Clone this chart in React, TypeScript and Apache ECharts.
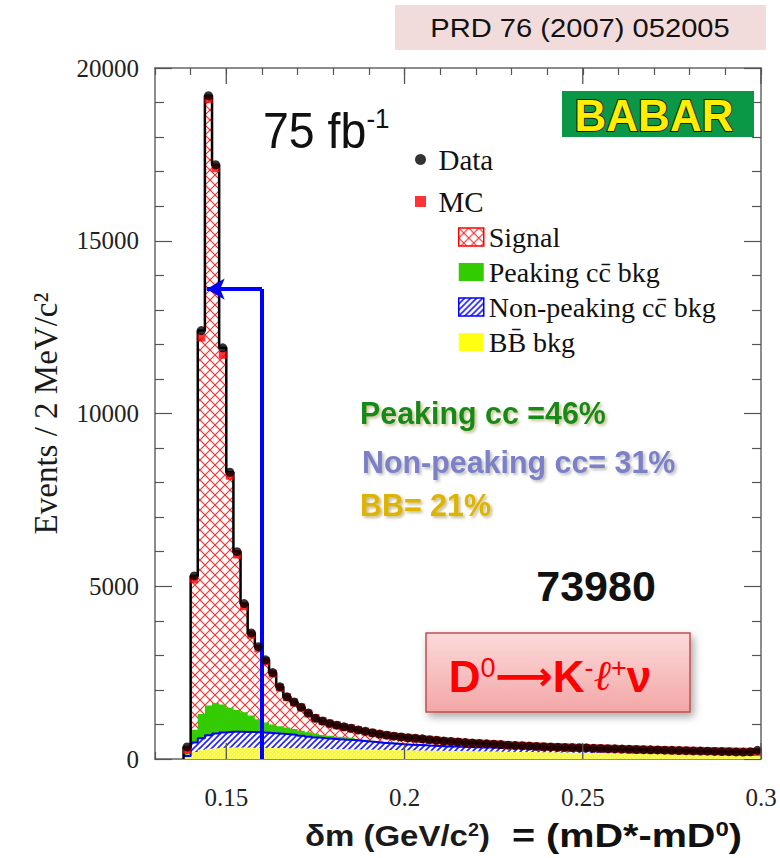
import React, { useEffect, useRef } from "react";
import * as echarts from "echarts";

// ---- Histogram binning (2 MeV/c^2 bins, lower edges) ----
const BIN_WIDTH = 0.002;
const binLowEdges = [
  0.138, 0.140, 0.142, 0.144, 0.146, 0.148, 0.150, 0.152, 0.154, 0.156,
  0.158, 0.160, 0.162, 0.164, 0.166, 0.168, 0.170, 0.172, 0.174, 0.176,
  0.178, 0.180, 0.182, 0.184, 0.186, 0.188, 0.190, 0.192, 0.194, 0.196,
  0.198, 0.200, 0.202, 0.204, 0.206, 0.208, 0.210, 0.212, 0.214, 0.216,
  0.218, 0.220, 0.222, 0.224, 0.226, 0.228, 0.230, 0.232, 0.234, 0.236,
  0.238, 0.240, 0.242, 0.244, 0.246, 0.248, 0.250, 0.252, 0.254, 0.256,
  0.258, 0.260, 0.262, 0.264, 0.266, 0.268, 0.270, 0.272, 0.274, 0.276,
  0.278, 0.280, 0.282, 0.284, 0.286, 0.288, 0.290, 0.292, 0.294, 0.296,
  0.298,
];

// ---- Data (events per bin) ----
const dataCounts = [
  350, 5300, 12400, 19200, 17200, 11900, 8300, 6000, 4500, 3650,
  3250, 2870, 2500, 2090, 1800, 1650, 1500, 1330, 1180, 1100,
  1030, 980, 930, 890, 840, 800, 760, 720, 690, 660,
  640, 615, 600, 585, 560, 540, 520, 505, 493, 475,
  460, 450, 440, 430, 418, 400, 390, 384, 375, 365,
  355, 350, 340, 335, 330, 325, 322, 310, 305, 300,
  295, 286, 280, 275, 270, 265, 262, 255, 250, 245,
  240, 233, 230, 225, 220, 215, 212, 205, 200, 210,
  250,
];

// ---- MC components (events per bin) ----
const signalMC = [
  130, 4350, 10900, 17550, 15480, 10120, 6720, 4500, 3070, 2340,
  2050, 1770, 1470, 1120, 880, 765, 670, 545, 455, 400,
  355, 330, 300, 275, 255, 240, 225, 213, 203, 192,
  186, 175, 171, 163, 156, 151, 142, 134, 126, 121,
  113, 106, 101, 96, 90, 79, 71, 66, 62, 56,
  52, 48, 44, 41, 37, 34, 30, 27, 25, 23,
  23, 21, 19, 17, 16, 14, 14, 13, 12, 11,
  10, 8, 7, 5, 4, 4, 3, 2, 1, 0,
  1,
];
const peakingCC = [
  40, 370, 700, 860, 880, 810, 690, 630, 565, 480,
  380, 300, 255, 220, 195, 175, 150, 130, 110, 95,
  85, 75, 65, 60, 50, 45, 40, 35, 30, 28,
  25, 22, 20, 18, 16, 15, 14, 13, 12, 11,
  10, 10, 9, 9, 8, 8, 7, 7, 6, 6,
  6, 5, 5, 5, 5, 4, 4, 4, 4, 4,
  3, 3, 3, 3, 3, 3, 2, 2, 2, 2,
  2, 2, 2, 2, 2, 1, 1, 1, 1, 1,
  1,
];
const nonPeakingCC = [
  30, 280, 330, 390, 425, 445, 460, 460, 455, 455,
  445, 440, 427, 415, 403, 387, 365, 344, 322, 306,
  295, 283, 277, 270, 254, 238, 222, 205, 194, 182,
  171, 165, 157, 150, 143, 135, 129, 127, 122, 117,
  115, 113, 112, 110, 107, 108, 109, 107, 106, 104,
  104, 104, 105, 104, 105, 106, 107, 107, 107, 106,
  104, 103, 102, 100, 99, 98, 96, 95, 93, 93,
  92, 92, 91, 90, 90, 89, 88, 87, 86, 84,
  83,
];
const bbBkg = [
  60, 200, 270, 300, 315, 325, 330, 330, 330, 325,
  325, 320, 318, 315, 312, 308, 305, 301, 298, 294,
  290, 287, 283, 280, 276, 272, 268, 265, 261, 258,
  254, 250, 248, 245, 242, 240, 236, 233, 230, 228,
  225, 222, 218, 215, 213, 210, 206, 203, 200, 198,
  195, 192, 188, 186, 183, 180, 177, 174, 171, 168,
  166, 163, 160, 158, 155, 152, 150, 147, 145, 142,
  140, 137, 135, 133, 130, 128, 126, 124, 122, 121,
  120,
];

// ---- Axes ----
const X_MIN = 0.13;
const X_MAX = 0.3;
const X_MINOR_STEP = 0.01;
const xTickLabels = [0.15, 0.2, 0.25, 0.3];
const Y_MIN = 0;
const Y_MAX = 20000;
const Y_STEP = 5000;

// ---- Selection cut arrow ----
const cutValue = 0.16;
const arrowLevel = 13600;
const arrowTip = 0.1445;

const SERIF = "'Liberation Serif', 'DejaVu Serif', serif";
const SANS = "'Liberation Sans', Arial, sans-serif";

function makeCanvas(size: number, draw: (ctx: CanvasRenderingContext2D, s: number) => void) {
  const c = document.createElement("canvas");
  c.width = size;
  c.height = size;
  const ctx = c.getContext("2d") as CanvasRenderingContext2D;
  draw(ctx, size);
  return c;
}

export default function App() {
  const ref = useRef<HTMLDivElement>(null);

  useEffect(() => {
    if (!ref.current) return;
    const chart = echarts.init(ref.current, null, { renderer: "svg" });

    const signalCanvas = makeCanvas(10, (ctx, s) => {
      ctx.fillStyle = "#ffffff";
      ctx.fillRect(0, 0, s, s);
      ctx.strokeStyle = "#ff2a2a";
      ctx.lineWidth = 1.1;
      ctx.beginPath();
      ctx.moveTo(-1, -1);
      ctx.lineTo(s + 1, s + 1);
      ctx.moveTo(s + 1, -1);
      ctx.lineTo(-1, s + 1);
      ctx.stroke();
    });
    const npCanvas = makeCanvas(6, (ctx, s) => {
      ctx.fillStyle = "#ffffff";
      ctx.fillRect(0, 0, s, s);
      ctx.strokeStyle = "#2020ff";
      ctx.lineWidth = 1.6;
      ctx.beginPath();
      ctx.moveTo(-1, s + 1);
      ctx.lineTo(s + 1, -1);
      ctx.moveTo(-2, 2);
      ctx.lineTo(2, -2);
      ctx.moveTo(s - 2, s + 2);
      ctx.lineTo(s + 2, s - 2);
      ctx.stroke();
    });
    const bbCanvas = makeCanvas(4, (ctx, s) => {
      ctx.fillStyle = "#ffff10";
      ctx.fillRect(0, 0, s, s);
      ctx.fillStyle = "#fcfca0";
      ctx.fillRect(0, 0, 1, 1);
      ctx.fillRect(2, 2, 1, 1);
    });
    const signalPattern: any = { image: signalCanvas, repeat: "repeat" };
    const npPattern: any = { image: npCanvas, repeat: "repeat" };
    const bbPattern: any = { image: bbCanvas, repeat: "repeat" };
    const GREEN = "#33cc00";

    const lastIdx = binLowEdges.length - 1;
    const stepPts = (vals: number[]) => {
      const pts = binLowEdges.map((x, i) => [x, vals[i]]);
      pts.push([binLowEdges[lastIdx] + BIN_WIDTH, vals[lastIdx]]);
      return pts;
    };
    const centers = binLowEdges.map((x) => x + BIN_WIDTH / 2);
    // cumulative layers (stack built by hand: BB, +non-peaking, +peaking, +signal)
    const cumBB = bbBkg.slice();
    const cumNP = binLowEdges.map((_, i) => cumBB[i] + nonPeakingCC[i]);
    const cumPK = binLowEdges.map((_, i) => cumNP[i] + peakingCC[i]);
    const mcTotal = binLowEdges.map((_, i) => cumPK[i] + signalMC[i]);

    const layer = (name: string, vals: number[], fill: any, color: string, line: any, z: number) => ({
      type: "line",
      name,
      step: "end",
      symbol: "none",
      showSymbol: false,
      silent: true,
      z,
      data: stepPts(vals),
      itemStyle: { color },
      lineStyle: line,
      areaStyle: { color: fill, opacity: 1, origin: "start" },
    });

    const axisLine = { show: true, onZero: false, lineStyle: { color: "#666666", width: 1.5 } };
    const tickStyle = { color: "#555555", width: 1.2 };

    const option: any = {
      animation: false,
      backgroundColor: "#ffffff",
      grid: { left: 155, right: 19, top: 68, bottom: 99, containLabel: false },
      xAxis: [
        {
          type: "value",
          position: "bottom",
          min: X_MIN,
          max: X_MAX,
          interval: X_MINOR_STEP,
          axisLine,
          axisTick: { show: true, inside: true, length: 7, lineStyle: tickStyle },
          axisLabel: {
            show: true,
            margin: 26,
            fontFamily: SERIF,
            fontSize: 25,
            color: "#222222",
            formatter: (v: number) =>
              xTickLabels.some((t) => Math.abs(t - v) < 1e-6) ? String(Math.round(v * 100) / 100) : "",
          },
          splitLine: { show: false },
        },
        {
          type: "value",
          position: "top",
          min: X_MIN,
          max: X_MAX,
          interval: X_MINOR_STEP,
          axisLine,
          axisTick: { show: true, inside: true, length: 7, lineStyle: tickStyle },
          axisLabel: { show: false },
          splitLine: { show: false },
        },
      ],
      yAxis: [
        {
          type: "value",
          position: "left",
          min: Y_MIN,
          max: Y_MAX,
          interval: Y_STEP,
          axisLine,
          axisTick: { show: true, inside: true, length: 17, lineStyle: tickStyle },
          minorTick: { show: true, splitNumber: 5, length: 9, lineStyle: tickStyle },
          axisLabel: {
            show: true,
            margin: 16,
            fontFamily: SERIF,
            fontSize: 25,
            color: "#222222",
            formatter: (v: number) => String(v),
          },
          splitLine: { show: false },
          name: "Events / 2 MeV/c²",
          nameLocation: "middle",
          nameGap: 93,
          nameTextStyle: { fontFamily: SERIF, fontSize: 33, color: "#1a1a1a" },
        },
        {
          type: "value",
          position: "right",
          min: Y_MIN,
          max: Y_MAX,
          interval: Y_STEP,
          axisLine,
          axisTick: { show: true, inside: true, length: 17, lineStyle: tickStyle },
          minorTick: { show: true, splitNumber: 5, length: 9, lineStyle: tickStyle },
          axisLabel: { show: false },
          splitLine: { show: false },
        },
      ],
      legend: [
        {
          orient: "vertical",
          left: 410,
          top: 140,
          itemWidth: 26,
          itemHeight: 11,
          itemGap: 13,
          selectedMode: false,
          textStyle: { fontFamily: SERIF, fontSize: 29, color: "#111111" },
          data: [
            { name: "Data", icon: "circle", itemStyle: { color: "#000000", borderWidth: 0 } },
            { name: "MC", icon: "path://M0 0H10V10H0Z", itemStyle: { color: "#ff0000", borderWidth: 0 } },
          ],
        },
        {
          orient: "vertical",
          left: 453,
          top: 218,
          itemWidth: 25,
          itemHeight: 18,
          itemGap: 7,
          selectedMode: false,
          textStyle: { fontFamily: SERIF, fontSize: 28, color: "#111111" },
          data: [
            { name: "Signal", icon: "rect", itemStyle: { color: signalPattern, borderColor: "#ff0000", borderWidth: 1.5 } },
            { name: "Peaking cc̄ bkg", icon: "rect", itemStyle: { color: GREEN, borderWidth: 0 } },
            { name: "Non-peaking cc̄ bkg", icon: "rect", itemStyle: { color: npPattern, borderColor: "#0000ff", borderWidth: 1.5 } },
            { name: "BB̄ bkg", icon: "rect", itemStyle: { color: bbPattern, borderWidth: 0 } },
          ],
        },
      ],
      series: [
        layer("Signal", mcTotal, signalPattern, "#ff0000", { width: 0, opacity: 0 }, 2),
        layer("Peaking cc̄ bkg", cumPK, GREEN, GREEN, { width: 0, opacity: 0 }, 2),
        layer("Non-peaking cc̄ bkg", cumNP, npPattern, "#0000ff", { color: "#0000ff", width: 2 }, 2),
        layer("BB̄ bkg", cumBB, bbPattern, "#ffff00", { width: 0, opacity: 0 }, 2),
        {
          type: "line",
          name: "outline",
          step: "end",
          symbol: "none",
          showSymbol: false,
          silent: true,
          z: 3,
          data: [[binLowEdges[0], 0], ...stepPts(dataCounts)],
          lineStyle: { color: "#000000", width: 2.5 },
        },
        {
          type: "scatter",
          name: "MC",
          symbol: "rect",
          symbolSize: 8,
          silent: true,
          z: 4,
          itemStyle: { color: "#ff0000" },
          data: centers.map((x, i) => [x, mcTotal[i]]),
        },
        {
          type: "scatter",
          name: "Data",
          symbol: "circle",
          symbolSize: 9,
          silent: true,
          z: 5,
          itemStyle: { color: "#000000" },
          data: centers.map((x, i) => [x, dataCounts[i]]),
          markLine: {
            silent: true,
            symbol: ["none", "none"],
            label: { show: false },
            lineStyle: { color: "#0000ff", width: 4, type: "solid" },
            emphasis: { disabled: true },
            data: [
              [{ coord: [cutValue, Y_MIN] }, { coord: [cutValue, arrowLevel] }],
              [
                { coord: [cutValue, arrowLevel] },
                { coord: [arrowTip, arrowLevel], symbol: "arrow", symbolSize: [16, 18] },
              ],
            ],
          },
        },
        {
          type: "custom",
          name: "majorTicks",
          silent: true,
          z: 7,
          data: xTickLabels.map((v) => [v, 0]),
          renderItem: (params: any, api: any) => {
            const cs = params.coordSys;
            const px = api.coord([api.value(0), 0])[0];
            const bottom = cs.y + cs.height;
            const top = cs.y;
            return {
              type: "group",
              children: [
                { type: "line", shape: { x1: px, y1: bottom, x2: px, y2: bottom - 16 }, style: { stroke: "#555555", lineWidth: 1.3 } },
                { type: "line", shape: { x1: px, y1: top, x2: px, y2: top + 16 }, style: { stroke: "#555555", lineWidth: 1.3 } },
              ],
            };
          },
        },
      ],
      graphic: [
        { type: "rect", z: 10, silent: true, shape: { x: 395, y: 5, width: 371, height: 45 }, style: { fill: "#f2dcdb" } },
        {
          type: "text", z: 11, silent: true, x: 580, y: 28, scaleX: 1.12,
          style: { text: "PRD 76 (2007) 052005", fontSize: 26, fontFamily: SANS, fill: "#111111", align: "center", verticalAlign: "middle" },
        },
        {
          type: "text", z: 11, silent: true, x: 263, y: 130, scaleX: 0.93,
          style: {
            text: "{a|75 fb}{s|-1}",
            align: "left",
            verticalAlign: "middle",
            rich: {
              a: { fontSize: 50, fontFamily: SANS, fill: "#111111" },
              s: { fontSize: 28, fontFamily: SANS, fill: "#111111", verticalAlign: "top" },
            },
          },
        },
        { type: "rect", z: 10, silent: true, shape: { x: 562, y: 91, width: 192, height: 46 }, style: { fill: "#0b9846" } },
        {
          type: "text", z: 11, silent: true, x: 654, y: 115,
          style: { text: "BABAR", fontSize: 44, fontWeight: "bold", fontFamily: SANS, fill: "#ffee00", stroke: "#1a1a1a", lineWidth: 2, align: "center", verticalAlign: "middle" },
        },
        {
          type: "text", z: 11, silent: true, x: 360, y: 413, scaleX: 0.95,
          style: { text: "Peaking cc =46%", fontSize: 32, fontWeight: "bold", fontFamily: SANS, fill: "#178a17", align: "left", verticalAlign: "middle", textShadowColor: "rgba(150,140,60,0.55)", textShadowBlur: 3, textShadowOffsetX: 2, textShadowOffsetY: 2 },
        },
        {
          type: "text", z: 11, silent: true, x: 362, y: 462, scaleX: 0.95,
          style: { text: "Non-peaking cc= 31%", fontSize: 32, fontWeight: "bold", fontFamily: SANS, fill: "#7c80c6", align: "left", verticalAlign: "middle", textShadowColor: "rgba(120,120,120,0.5)", textShadowBlur: 3, textShadowOffsetX: 2, textShadowOffsetY: 2 },
        },
        {
          type: "text", z: 11, silent: true, x: 360, y: 505, scaleX: 0.95,
          style: { text: "BB= 21%", fontSize: 32, fontWeight: "bold", fontFamily: SANS, fill: "#ddb400", align: "left", verticalAlign: "middle", textShadowColor: "rgba(140,120,40,0.5)", textShadowBlur: 3, textShadowOffsetX: 2, textShadowOffsetY: 2 },
        },
        {
          type: "text", z: 11, silent: true, x: 596, y: 586,
          style: { text: "73980", fontSize: 43, fontWeight: "bold", fontFamily: SANS, fill: "#111111", align: "center", verticalAlign: "middle" },
        },
        {
          type: "rect", z: 10, silent: true, shape: { x: 426, y: 633, width: 264, height: 79 },
          style: {
            fill: new echarts.graphic.LinearGradient(0, 0, 0, 1, [
              { offset: 0, color: "#fcdada" },
              { offset: 1, color: "#f3a6a6" },
            ]),
            stroke: "#c0504d",
            lineWidth: 1.5,
            shadowBlur: 8,
            shadowOffsetX: 3,
            shadowOffsetY: 4,
            shadowColor: "rgba(0,0,0,0.35)",
          },
        },
        {
          type: "text", z: 11, silent: true, x: 550, y: 676,
          style: {
            text: "{b|D}{s|0}{a|⟶}{b|K}{s|-}{i|ℓ}{s|+}{b|ν}",
            align: "center",
            verticalAlign: "middle",
            rich: {
              b: { fontSize: 44, fontWeight: "bold", fontFamily: SANS, fill: "#ff0000" },
              a: { fontSize: 40, fontWeight: "bold", fontFamily: "'DejaVu Sans', sans-serif", fill: "#ff0000" },
              i: { fontSize: 42, fontStyle: "italic", fontFamily: SERIF, fill: "#ff0000" },
              s: { fontSize: 27, fontFamily: SANS, fill: "#ff0000", verticalAlign: "top" },
            },
          },
        },
        {
          type: "text", z: 11, silent: true, x: 305, y: 836, scaleX: 1.1,
          style: {
            text: "{a|δm (GeV/c}{s|2}{a|)}",
            align: "left",
            verticalAlign: "middle",
            rich: {
              a: { fontSize: 30, fontWeight: "bold", fontFamily: SANS, fill: "#1a1a1a" },
              s: { fontSize: 18, fontWeight: "bold", fontFamily: SANS, fill: "#1a1a1a", verticalAlign: "top" },
            },
          },
        },
        {
          type: "text", z: 11, silent: true, x: 512, y: 836, scaleX: 1.2,
          style: {
            text: "{a|= (mD*-mD}{s|0}{a|)}",
            align: "left",
            verticalAlign: "middle",
            rich: {
              a: { fontSize: 33, fontWeight: "bold", fontFamily: SANS, fill: "#111111" },
              s: { fontSize: 20, fontWeight: "bold", fontFamily: SANS, fill: "#111111", verticalAlign: "top" },
            },
          },
        },
      ],
    };

    chart.setOption(option);
    return () => chart.dispose();
  }, []);

  return (
    <div
      ref={ref}
      style={{ position: "fixed", left: 0, top: 0, width: 780, height: 858, background: "#ffffff" }}
    />
  );
}
